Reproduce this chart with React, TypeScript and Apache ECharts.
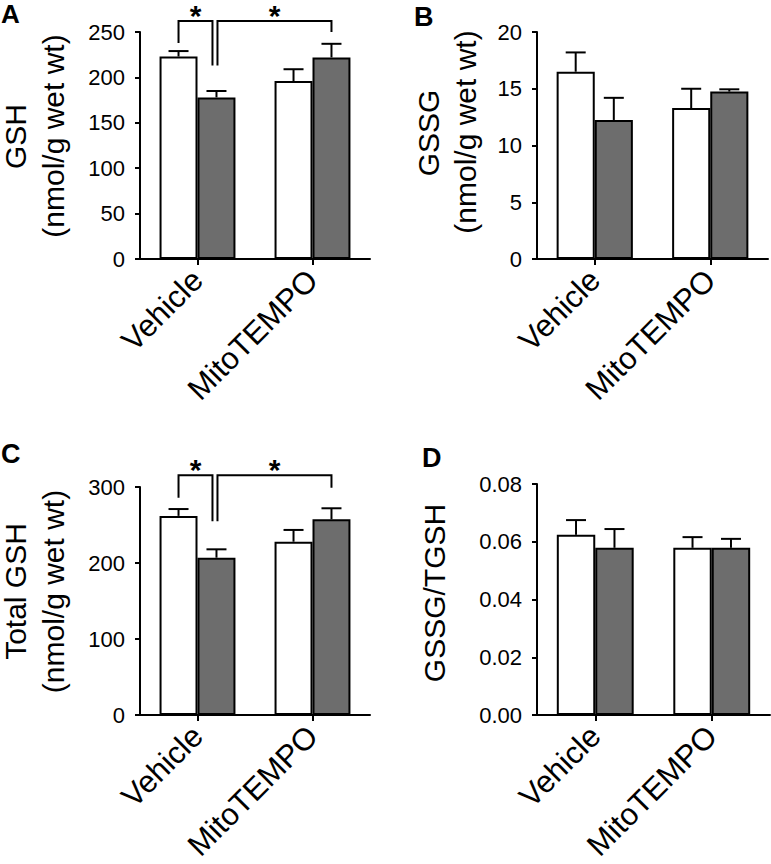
import React, { useEffect, useRef } from "react";
import * as echarts from "echarts";

// ---------- data ----------
const categories = ["Vehicle", "MitoTEMPO"];

// Panel A: GSH (nmol/g wet wt)
const gshWhite = [223, 196];
const gshWhiteSem = [6, 13];
const gshGray = [178, 222];
const gshGraySem = [7, 15];
const gshTicks = { min: 0, max: 250, interval: 50 };

// Panel B: GSSG (nmol/g wet wt)
const gssgWhite = [16.5, 13.3];
const gssgWhiteSem = [1.7, 1.7];
const gssgGray = [12.25, 14.75];
const gssgGraySem = [1.95, 0.2];
const gssgTicks = { min: 0, max: 20, interval: 5 };

// Panel C: Total GSH (nmol/g wet wt)
const tgshWhite = [262, 228];
const tgshWhiteSem = [9, 15.5];
const tgshGray = [207, 257.5];
const tgshGraySem = [11, 14.5];
const tgshTicks = { min: 0, max: 300, interval: 100 };

// Panel D: GSSG/TGSH
const ratioWhite = [0.0624, 0.0579];
const ratioWhiteSem = [0.0051, 0.0037];
const ratioGray = [0.0579, 0.0579];
const ratioGraySem = [0.0065, 0.0031];
const ratioTicks = { min: 0, max: 0.08, interval: 0.02 };

// significance brackets: [fromCategory, fromSide(-1 white,1 gray), toCategory, toSide, topValue, leftLegEnd, rightLegEnd]
const bracketsA = [
  [0, -1, 0, 1, 262, 238, 213],
  [0, 1, 1, 1, 262, 213, 250],
];
const bracketsC = [
  [0, -1, 0, 1, 315.5, 286, 255],
  [0, 1, 1, 1, 315.5, 255, 299],
];

// ---------- style ----------
const FONT = "'Liberation Sans', Arial, Helvetica, sans-serif";
const BAR_FRAC = 0.33;
const CAP = 20;
const GRAY = "#6d6d6d";

function errRenderer(side: number) {
  return (params: any, api: any) => {
    const cat = api.value(0);
    const mean = api.value(1);
    const hi = api.value(2);
    const band = api.size([1, 0])[0];
    const off = (side * band * BAR_FRAC) / 2;
    const top = api.coord([cat, hi]);
    const base = api.coord([cat, mean]);
    const x = top[0] + off;
    return {
      type: "group",
      children: [
        { type: "line", shape: { x1: x, y1: base[1], x2: x, y2: top[1] }, style: { stroke: "#000", lineWidth: 2 } },
        { type: "line", shape: { x1: x - CAP / 2, y1: top[1], x2: x + CAP / 2, y2: top[1] }, style: { stroke: "#000", lineWidth: 2 } },
      ],
    };
  };
}

function bracketRenderer(params: any, api: any) {
  const band = api.size([1, 0])[0];
  const half = (band * BAR_FRAC) / 2;
  const nudgeL = params.dataIndex === 1 ? 1 : 0;
  const nudgeR = params.dataIndex === 0 ? -4 : 0;
  const xL = api.coord([api.value(0), 0])[0] + api.value(1) * half + nudgeL;
  const xR = api.coord([api.value(2), 0])[0] + api.value(3) * half + nudgeR;
  const yTop = api.coord([0, api.value(4)])[1];
  const yL = api.coord([0, api.value(5)])[1];
  const yR = api.coord([0, api.value(6)])[1];
  return {
    type: "group",
    children: [
      {
        type: "polyline",
        shape: { points: [[xL, yL], [xL, yTop], [xR, yTop], [xR, yR]] },
        style: { stroke: "#000", lineWidth: 2, fill: "none" },
      },
      {
        type: "text",
        x: (xL + xR) / 2,
        y: Math.max(0.5, yTop - 21),
        style: { text: "*", fontSize: 30, fontWeight: "bold", fontFamily: FONT, fill: "#000", align: "center", verticalAlign: "top" },
      },
    ],
  };
}

const grids = [
  { left: 140, top: 32, width: 230, height: 227 },
  { left: 537, top: 32, width: 231, height: 227 },
  { left: 140, top: 487, width: 230, height: 228 },
  { left: 537, top: 484, width: 233, height: 231 },
];

const panels = [
  { white: gshWhite, whiteSem: gshWhiteSem, gray: gshGray, graySem: gshGraySem, ticks: gshTicks, dec: 0, brackets: bracketsA },
  { white: gssgWhite, whiteSem: gssgWhiteSem, gray: gssgGray, graySem: gssgGraySem, ticks: gssgTicks, dec: 0, brackets: null },
  { white: tgshWhite, whiteSem: tgshWhiteSem, gray: tgshGray, graySem: tgshGraySem, ticks: tgshTicks, dec: 0, brackets: bracketsC },
  { white: ratioWhite, whiteSem: ratioWhiteSem, gray: ratioGray, graySem: ratioGraySem, ticks: ratioTicks, dec: 2, brackets: null },
];

function buildOption() {
  const xAxis: any[] = [];
  const yAxis: any[] = [];
  const series: any[] = [];
  panels.forEach((p, i) => {
    xAxis.push({
      type: "category",
      gridIndex: i,
      data: categories,
      boundaryGap: true,
      axisLine: { show: true, lineStyle: { color: "#000", width: 2 } },
      axisTick: { show: true, alignWithLabel: true, length: 6, lineStyle: { color: "#000", width: 2 } },
      axisLabel: { rotate: 45, interval: 0, fontSize: 31, fontFamily: FONT, color: "#000", margin: 16 },
      splitLine: { show: false },
    });
    yAxis.push({
      type: "value",
      gridIndex: i,
      min: p.ticks.min,
      max: p.ticks.max,
      interval: p.ticks.interval,
      axisLine: { show: true, lineStyle: { color: "#000", width: 2 } },
      axisTick: { show: true, length: 5, lineStyle: { color: "#000", width: 2 } },
      axisLabel: {
        fontSize: 22,
        fontFamily: FONT,
        color: "#000",
        margin: 15,
        formatter: (v: number) => v.toFixed(p.dec),
      },
      splitLine: { show: false },
    });
    const barStyle = (fill: string) => ({ color: fill, borderColor: "#000", borderWidth: 2 });
    series.push({
      type: "bar",
      xAxisIndex: i,
      yAxisIndex: i,
      data: p.white,
      barWidth: BAR_FRAC * 100 + "%",
      barGap: "0%",
      itemStyle: barStyle("#ffffff"),
      z: 2,
    });
    series.push({
      type: "bar",
      xAxisIndex: i,
      yAxisIndex: i,
      data: p.gray,
      barWidth: BAR_FRAC * 100 + "%",
      barGap: "0%",
      itemStyle: barStyle(GRAY),
      z: 2,
    });
    series.push({
      type: "custom",
      xAxisIndex: i,
      yAxisIndex: i,
      data: p.white.map((m, k) => [k, m, m + p.whiteSem[k]]),
      encode: { x: 0, y: 2 },
      renderItem: errRenderer(-1),
      clip: false,
      z: 3,
    });
    series.push({
      type: "custom",
      xAxisIndex: i,
      yAxisIndex: i,
      data: p.gray.map((m, k) => [k, m, m + p.graySem[k]]),
      encode: { x: 0, y: 2 },
      renderItem: errRenderer(1),
      clip: false,
      z: 3,
    });
    if (p.brackets) {
      series.push({
        type: "custom",
        xAxisIndex: i,
        yAxisIndex: i,
        data: p.brackets,
        encode: { x: 0, y: 4 },
        renderItem: bracketRenderer,
        clip: false,
        z: 4,
      });
    }
  });

  const t = (text: string, x: number, y: number, size: number, rot: number, bold = false, vAlign = "middle", align = "center") => ({
    type: "text",
    x,
    y,
    rotation: rot,
    style: { text, fontSize: size, fontFamily: FONT, fontWeight: bold ? "bold" : "normal", fill: "#000", align, verticalAlign: vAlign },
  });
  const R = Math.PI / 2;
  const graphic = [
    t("A", 1, 0.5, 26, 0, true, "top", "left"),
    t("B", 414, 3, 27, 0, true, "top", "left"),
    t("C", 1, 440, 27, 0, true, "top", "left"),
    t("D", 422, 444, 27, 0, true, "top", "left"),
    t("GSH", 15, 136.5, 30, R),
    t("(nmol/g wet wt)", 53, 136, 30, R),
    t("GSSG", 428, 133, 30, R),
    t("(nmol/g wet wt)", 465, 132, 30, R),
    t("Total GSH", 15, 591.5, 30, R),
    t("(nmol/g wet wt)", 53, 591.5, 30, R),
    t("GSSG/TGSH", 434, 593, 30, R),
  ];

  return {
    animation: false,
    backgroundColor: "#ffffff",
    grid: grids.map((g) => ({ ...g, containLabel: false })),
    xAxis,
    yAxis,
    series,
    graphic,
  };
}

export default function App() {
  const ref = useRef<HTMLDivElement>(null);
  useEffect(() => {
    if (!ref.current) return;
    const chart = echarts.init(ref.current, undefined, { renderer: "svg" });
    chart.setOption(buildOption() as any);
    return () => chart.dispose();
  }, []);
  return <div ref={ref} style={{ position: "absolute", left: 0, top: 0, width: 771, height: 864 }} />;
}
